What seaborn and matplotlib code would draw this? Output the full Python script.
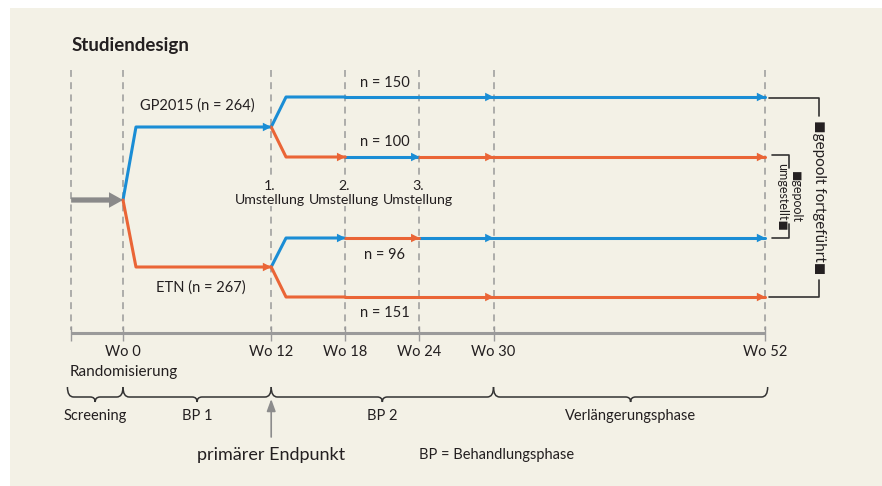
import numpy as np
import pandas as pd
import matplotlib.pyplot as plt
import matplotlib.patches as mpatches
from matplotlib.path import Path
import seaborn as sns

# Study design data
weeks = [0, 12, 18, 24, 30, 52]
week_labels = ["Wo 0", "Wo 12", "Wo 18", "Wo 24", "Wo 30", "Wo 52"]
screening_start = -4.2
groups = ["GP2015", "ETN"]
group_n = [264, 267]
seq_n = [150, 100, 96, 151]
seq_group = [0, 0, 1, 1]
# treatment per period: Wo 12-18, Wo 18-24, Wo 24-52
seq_treat = [["GP2015", "GP2015", "GP2015"],
             ["ETN", "GP2015", "ETN"],
             ["GP2015", "ETN", "GP2015"],
             ["ETN", "ETN", "ETN"]]
switch_labels = ["1.\nUmstellung", "2.\nUmstellung", "3.\nUmstellung"]
switch_weeks = [12, 18, 24]
phases = ["Screening", "BP 1", "BP 2", "Verlängerungsphase"]
phase_start = [-4.5, 0, 12, 30]
phase_end = [0, 12, 30, 52.2]

colors = {"GP2015": "#1a8dd5", "ETN": "#ea6536"}
bg = "#f3f1e6"
txt = "#231f20"
grey = "#9a9a9a"

# layout (vertical positions in pixel-like units)
start_y = 200
group_y = [127, 267]
seq_y = [97, 157, 238, 297]

sns.set_theme(style="white")
plt.rcParams["font.family"] = ["Lato", "DejaVu Sans"]

fig = plt.figure(figsize=(8.82, 4.86), dpi=100, facecolor="white")
ax = fig.add_axes([0, 0, 1, 1])
ax.patch.set_alpha(0)
ax.add_patch(mpatches.Rectangle((10 / 882, -0.1), 1.2, 1.1 - 8 / 486,
                                transform=ax.transAxes, facecolor=bg,
                                edgecolor="none", zorder=0, clip_on=False))

# build line segments
rows = []
heads = []
seg = 0
for i, g in enumerate(groups):
    for w, y in [(0, start_y), (1.05, group_y[i]), (12, group_y[i])]:
        rows.append((seg, w, y, g))
    heads.append((12, group_y[i], g))
    seg += 1
for k in range(len(seq_n)):
    gy = group_y[seq_group[k]]
    sy = seq_y[k]
    t = seq_treat[k]
    for w, y in [(12, gy), (13.2, sy), (18, sy)]:
        rows.append((seg, w, y, t[0]))
    seg += 1
    for w in [18, 24]:
        rows.append((seg, w, sy, t[1]))
    seg += 1
    for w in [24, 52]:
        rows.append((seg, w, sy, t[2]))
    seg += 1
    if t[0] != t[1]:
        heads.append((18, sy, t[0]))
    if t[1] != t[2]:
        heads.append((24, sy, t[1]))
    heads.append((30, sy, t[2]))
    heads.append((52, sy, t[2]))

lines = pd.DataFrame(rows, columns=["seg", "week", "y", "treat"])
heads = pd.DataFrame(heads, columns=["week", "y", "treat"])
heads["week"] = heads["week"] - 0.33

# dashed week lines
ax.vlines([screening_start] + weeks, 70, 330, colors=grey, lw=1.1,
          linestyles=(0, (4.5, 3.5)), zorder=1)

sns.lineplot(data=lines, x="week", y="y", units="seg", hue="treat", palette=colors,
             estimator=None, sort=False, lw=2.2, legend=False, ax=ax, zorder=3)
sns.scatterplot(data=heads, x="week", y="y", hue="treat", palette=colors, marker=">",
                s=38, linewidth=0, legend=False, ax=ax, zorder=4)

# grey arrow into randomisation
ax.add_patch(mpatches.FancyArrowPatch((screening_start, start_y), (0, start_y),
             arrowstyle="simple,head_length=0.72,head_width=0.8,tail_width=0.27",
             mutation_scale=14, color="#8a8a8a", lw=0, shrinkA=0, shrinkB=0, zorder=2))

# group and sequence labels
ax.text(6.05, 106, f"{groups[0]} (n = {group_n[0]})", ha="center", va="center",
        fontsize=10.5, color=txt)
ax.text(6.3, 288, f"{groups[1]} (n = {group_n[1]})", ha="center", va="center",
        fontsize=10.5, color=txt)
for k, yy in zip(range(4), [83, 142, 255, 313]):
    ax.text(21.2, yy, f"n = {seq_n[k]}", ha="center", va="center", fontsize=10.5, color=txt)

for lab, w in zip(switch_labels, switch_weeks):
    ax.text(w - 0.1, 193, lab, ha="center", va="center", fontsize=10.2, color=txt,
            linespacing=1.2, bbox=dict(facecolor=bg, edgecolor="none", pad=0.3), zorder=2)

# brackets on the right
bk = "#333333"
ax.plot([52.3, 56.35, 56.35], [98, 98, 116], color=bk, lw=1.2)
ax.plot([52.3, 56.35, 56.35], [297, 297, 280], color=bk, lw=1.2)
ax.text(56.35, 197, "◼gepoolt fortgeführt◼", rotation=-90, ha="center", va="center",
        fontsize=11, color=txt)
ax.plot([52.55, 53.93, 53.93], [155, 155, 168], color=bk, lw=1.2)
ax.plot([52.55, 53.93, 53.93], [238, 238, 224], color=bk, lw=1.2)
ax.text(53.95, 197, "◼gepoolt\numgestellt◼", rotation=-90, ha="center", va="center",
        fontsize=9, color=txt, linespacing=1.2, multialignment="center")

# timeline
ax.hlines(333, screening_start, 52, color=grey, lw=2.2)
ax.vlines([screening_start] + weeks, 326, 341, colors=grey, lw=1)
for w, lab in zip(weeks, week_labels):
    ax.text(w, 352, lab, ha="center", va="center", fontsize=10.5, color=txt)
ax.text(0.1, 372, "Randomisierung", ha="center", va="center", fontsize=11, color=txt)

# phase braces
def brace(x0, x1, ytop=387, ymid=397, ytip=402, r=0.5, rm=0.4):
    xm = (x0 + x1) / 2
    verts = [(x0, ytop), (x0, ymid), (x0 + r, ymid),
             (xm - rm, ymid), (xm, ymid), (xm, ytip),
             (xm, ymid), (xm + rm, ymid),
             (x1 - r, ymid), (x1, ymid), (x1, ytop)]
    codes = [Path.MOVETO, Path.CURVE3, Path.CURVE3,
             Path.LINETO, Path.CURVE3, Path.CURVE3,
             Path.CURVE3, Path.CURVE3,
             Path.LINETO, Path.CURVE3, Path.CURVE3]
    ax.add_patch(mpatches.PathPatch(Path(verts, codes), facecolor="none",
                                    edgecolor=bk, lw=1.1))
    return xm

for name, a, b in zip(phases, phase_start, phase_end):
    xm = brace(a, b)
    ax.text(xm, 416, name, ha="center", va="center", fontsize=10.5, color=txt)

ax.annotate("", xy=(12, 399), xytext=(12, 437),
            arrowprops=dict(arrowstyle="-|>,head_length=0.6,head_width=0.22",
                            color="#8c8c8c", lw=1.2, mutation_scale=12,
                            shrinkA=0, shrinkB=0))
ax.text(12, 455, "primärer Endpunkt", ha="center", va="center", fontsize=13, color=txt)
ax.text(24, 455, "BP = Behandlungsphase", ha="left", va="center", fontsize=10.5, color=txt)

ax.text(screening_start, 45, "Studiendesign", ha="left", va="center", fontsize=13.5,
        fontweight="bold", color=txt)

ax.set_xlim(-123 / 12.35, (882 - 123) / 12.35)
ax.set_ylim(486, 0)
ax.axis("off")

fig.savefig("out.png", dpi=100, facecolor="white")
